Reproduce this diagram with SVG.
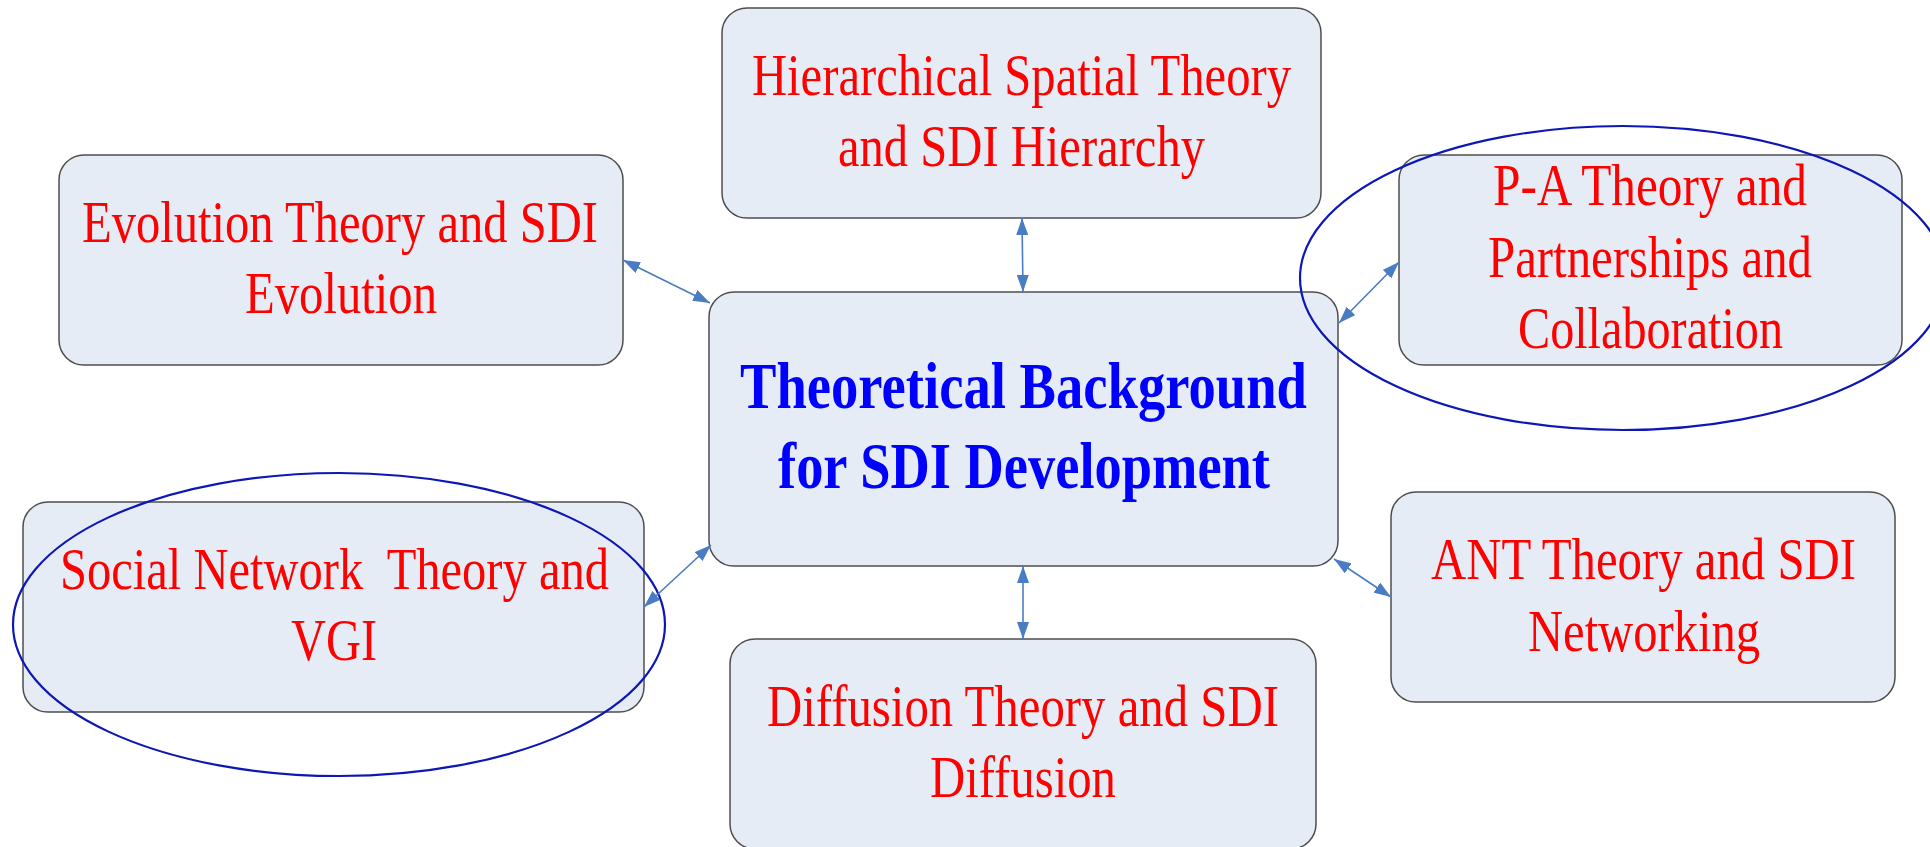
<svg xmlns="http://www.w3.org/2000/svg" width="1930" height="847" viewBox="0 0 1930 847">
<style>
.box{fill:#e6ecf6;stroke:#4d4d4d;stroke-width:1.5}
.t{font-family:"Liberation Serif","Times New Roman",serif;font-size:59px;fill:#ff0000;white-space:pre}
.c{font-family:"Liberation Serif","Times New Roman",serif;font-size:65px;font-weight:bold;fill:#0000ff}
.con{stroke:#4a7cc4;stroke-width:1.6;fill:none;marker-start:url(#ah);marker-end:url(#ah)}
.ell{fill:none;stroke:#0d17b5;stroke-width:2.2}
</style>
<defs>
<marker id="ah" viewBox="0 0 17 12" refX="17" refY="6" markerWidth="17" markerHeight="12" markerUnits="userSpaceOnUse" orient="auto-start-reverse">
<path d="M0,0 L17,6 L0,12 z" fill="#4a7cc4"/>
</marker>
</defs>
<rect width="1930" height="847" fill="#ffffff"/>
<g id="node-hierarchical">
<rect class="box" x="722" y="8" width="599" height="210" rx="25"/>
<text class="t" x="752" y="95" textLength="539" lengthAdjust="spacingAndGlyphs">Hierarchical Spatial Theory</text>
<text class="t" x="838" y="166" textLength="367" lengthAdjust="spacingAndGlyphs">and SDI Hierarchy</text>
</g>
<g id="node-evolution">
<rect class="box" x="59" y="155" width="564" height="210" rx="25"/>
<text class="t" x="82" y="242" textLength="516" lengthAdjust="spacingAndGlyphs">Evolution Theory and SDI</text>
<text class="t" x="245" y="313" textLength="192" lengthAdjust="spacingAndGlyphs">Evolution</text>
</g>
<g id="node-pa">
<rect class="box" x="1399" y="155" width="503" height="210" rx="25"/>
<text class="t" x="1493" y="205" textLength="314" lengthAdjust="spacingAndGlyphs">P-A Theory and</text>
<text class="t" x="1488" y="277" textLength="324" lengthAdjust="spacingAndGlyphs">Partnerships and</text>
<text class="t" x="1518" y="348" textLength="265" lengthAdjust="spacingAndGlyphs">Collaboration</text>
</g>
<g id="node-center">
<rect class="box" x="709" y="292" width="629" height="274" rx="25"/>
<text class="c" x="740" y="408" textLength="567" lengthAdjust="spacingAndGlyphs">Theoretical Background</text>
<text class="c" x="778" y="488" textLength="492" lengthAdjust="spacingAndGlyphs">for SDI Development</text>
</g>
<g id="node-social">
<rect class="box" x="23" y="502" width="621" height="210" rx="25"/>
<text class="t" x="60" y="589" textLength="549" lengthAdjust="spacingAndGlyphs">Social Network  Theory and</text>
<text class="t" x="291" y="660" textLength="86" lengthAdjust="spacingAndGlyphs">VGI</text>
</g>
<g id="node-ant">
<rect class="box" x="1391" y="492" width="504" height="210" rx="25"/>
<text class="t" x="1431" y="579" textLength="425" lengthAdjust="spacingAndGlyphs">ANT Theory and SDI</text>
<text class="t" x="1528" y="651" textLength="232" lengthAdjust="spacingAndGlyphs">Networking</text>
</g>
<g id="node-diffusion">
<rect class="box" x="730" y="639" width="586" height="210" rx="25"/>
<text class="t" x="767" y="726" textLength="512" lengthAdjust="spacingAndGlyphs">Diffusion Theory and SDI</text>
<text class="t" x="930" y="797" textLength="186" lengthAdjust="spacingAndGlyphs">Diffusion</text>
</g>
<g id="highlights">
<ellipse class="ell" cx="1623" cy="278" rx="323" ry="152"/>
<ellipse class="ell" cx="339" cy="624.5" rx="326" ry="151.5"/>
</g>
<g id="connectors">
<line class="con" x1="623" y1="260" x2="710" y2="303"/>
<line class="con" x1="1022" y1="218" x2="1023" y2="292"/>
<line class="con" x1="1399" y1="262" x2="1339" y2="323"/>
<line class="con" x1="644" y1="607" x2="711" y2="545"/>
<line class="con" x1="1023" y1="566" x2="1023" y2="639"/>
<line class="con" x1="1334" y1="559" x2="1391" y2="597"/>
</g>
</svg>
